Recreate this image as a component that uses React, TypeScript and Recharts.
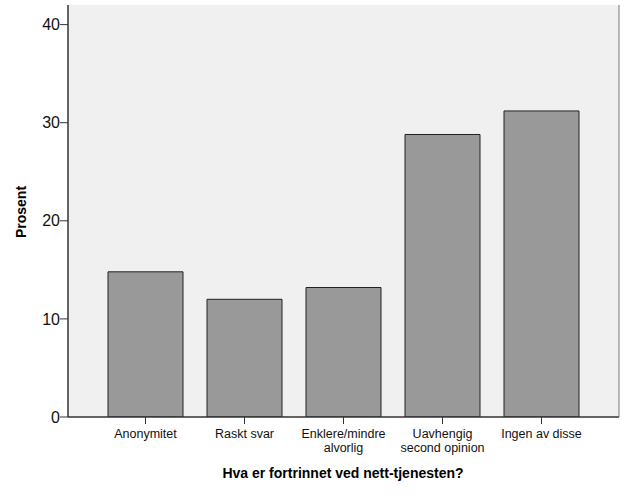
import { BarChart, Bar, XAxis, YAxis, CartesianGrid } from "recharts";

const categories = ["Anonymitet", "Raskt svar", "Enklere/mindre alvorlig", "Uavhengig second opinion", "Ingen av disse"];
const tickLines = [["Anonymitet"], ["Raskt svar"], ["Enklere/mindre", "alvorlig"], ["Uavhengig", "second opinion"], ["Ingen av disse"]];
const percent = [14.8, 12.0, 13.2, 28.8, 31.2];
const yTicks = [0, 10, 20, 30, 40];

const data = categories.map((c, i) => ({ name: c, value: percent[i] }));

const FONT = "'Liberation Sans', Arial, sans-serif";

function CatTick(props: any) {
  const { x, y, index } = props;
  const lines = tickLines[index] || [props.payload.value];
  return (
    <text x={x} y={y} textAnchor="middle" fill="#111" fontSize={12.5} fontFamily={FONT}>
      {lines.map((l: string, i: number) => (
        <tspan key={i} x={x} dy={i === 0 ? 12 : 14}>{l}</tspan>
      ))}
    </text>
  );
}

export default function App() {
  return (
    <div style={{ position: "absolute", left: 0, top: 0, width: 625, height: 500, background: "#fff", fontFamily: FONT }}>
      <BarChart width={625} height={500} data={data} margin={{ top: 5, right: 0, left: 0, bottom: 0 }}>
        <CartesianGrid horizontal={false} vertical={false} fill="#f0f0f0" />
        <XAxis
          dataKey="name"
          padding={{ left: 28, right: 28 }}
          height={83}
          tickSize={7}
          tickMargin={2}
          interval={0}
          axisLine={{ stroke: "#333", strokeWidth: 1.5 }}
          tickLine={{ stroke: "#333" }}
          tick={<CatTick />}
          label={{
            content: () => (
              <text x={343} y={478} textAnchor="middle" fontSize={14} fontWeight="bold" fontFamily={FONT} fill="#000">
                Hva er fortrinnet ved nett-tjenesten?
              </text>
            ),
          }}
        />
        <XAxis xAxisId="top" orientation="top" dataKey="name" height={0} tick={false} tickLine={false} axisLine={{ stroke: "#777" }} />
        <YAxis
          width={68}
          domain={[0, 42]}
          ticks={yTicks}
          allowDataOverflow
          tickSize={8}
          tickMargin={0}
          axisLine={{ stroke: "#333", strokeWidth: 1.5 }}
          tickLine={{ stroke: "#333" }}
          tick={{ fill: "#111", fontSize: 16, fontFamily: FONT }}
          label={{
            content: () => (
              <text x={26} y={212} textAnchor="middle" fontSize={14} fontWeight="bold" fontFamily={FONT} fill="#000" transform="rotate(-90 26 212)">
                Prosent
              </text>
            ),
          }}
        />
        <YAxis yAxisId="right" orientation="right" width={6} domain={[0, 42]} tick={false} tickLine={false} axisLine={{ stroke: "#777" }} />
        <Bar dataKey="value" fill="#999999" stroke="#222" strokeWidth={1} barSize={75} isAnimationActive={false} />
        <Bar dataKey="value" xAxisId="top" yAxisId="right" fill="none" stroke="none" barSize={0} isAnimationActive={false} />
      </BarChart>
    </div>
  );
}
